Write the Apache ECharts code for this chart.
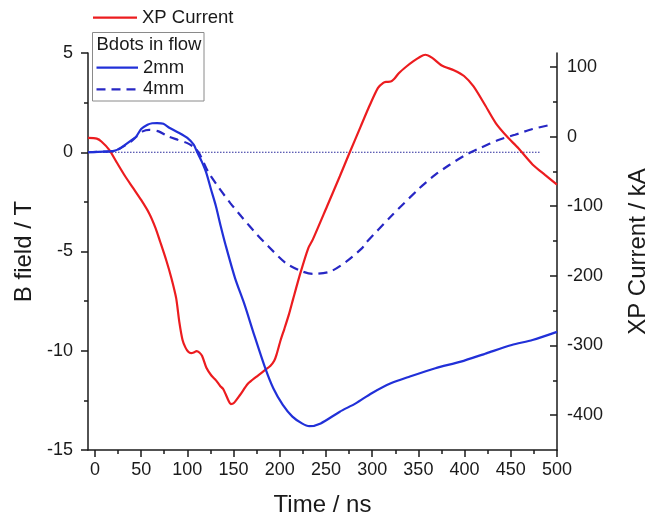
<!DOCTYPE html>
<html>
<head>
<meta charset="utf-8">
<script src="https://cdn.jsdelivr.net/npm/echarts@6/dist/echarts.min.js"></script>
<style>
  html, body { margin: 0; padding: 0; background: #ffffff; }
  #chart { width: 658px; height: 522px; }
</style>
</head>
<body>
<div id="chart"></div>
<script>
// Axis ticks and labels
const timeTicks = [0, 50, 100, 150, 200, 250, 300, 350, 400, 450, 500];
const timeMinorTicks = [25, 75, 125, 175, 225, 275, 325, 375, 425, 475];
const fieldTicks = [-15, -10, -5, 0, 5];
const currentTicks = [-400, -300, -200, -100, 0, 100];
const currentMinorTicks = [-350, -250, -150, -50, 50];

// XP current trace (time in ns, current in kA)
const xpTime = [-7.5, 2, 7, 15.5, 24, 32.7, 41.4, 50, 58.6, 65.5, 70.6, 77.5, 82.7, 87.9, 91.3, 94.8,
  98, 101, 104, 107, 110, 113, 116, 120.6, 126, 131, 135.5, 138.5, 141.5, 144.5, 147, 150, 157, 165.5,
  174.5, 184.3, 190, 194, 196.5, 201, 205, 210, 214.5, 222.3, 230.9, 235.7, 251.2, 265, 275.3, 287.4,
  297.7, 306.3, 312, 315, 320, 324, 328.8, 337.4, 344.3, 351.2, 357.4, 365, 375.3, 389, 399.4, 409.7,
  421.8, 433.9, 445.9, 458, 473.5, 487, 500];
const xpCurrent = [-2, -3, -7, -19, -38, -57, -74, -91, -110, -131, -151, -179, -203, -232, -266, -292,
  -303, -309, -311, -310, -308, -310, -315, -332, -343, -350, -358, -362, -370, -379, -384, -383, -371, -355,
  -345, -335, -329, -322, -313, -292, -276, -255, -233, -196, -160, -148, -100, -57, -24, 14,
  46, 70, 77, 78.5, 79, 83, 91, 101, 108, 114, 117.5, 113, 102, 95, 87, 72,
  46, 19, 0, -16.5, -40, -55, -69];

// B-dot probe at 2 mm (time in ns, field in T)
const b2Time = [-7.5, 10, 20.7, 27.6, 37.9, 44.8, 50, 56.9, 62, 67.2, 74.1, 81, 91.3, 100, 106.9, 110.3,
  115.5, 120.6, 125.8, 131, 136.2, 141.3, 151.6, 162, 172.3, 184.3, 193, 203.3, 213.7, 224, 232, 244.3,
  265, 282.2, 299.5, 320.2, 340.8, 368.4, 395.9, 423.5, 451, 473.5, 500];
const b2Field = [0, 0.03, 0.07, 0.21, 0.55, 0.8, 1.17, 1.39, 1.46, 1.47, 1.44, 1.22, 0.97, 0.72, 0.38, 0.04,
  -0.46, -1.05, -1.9, -2.73, -3.74, -4.66, -6.34, -7.69, -9.2, -10.88, -11.89, -12.73, -13.32, -13.66, -13.8, -13.66,
  -13.07, -12.65, -12.14, -11.64, -11.3, -10.88, -10.55, -10.13, -9.71, -9.46, -9.05];

// B-dot probe at 4 mm (time in ns, field in T)
const b4Time = [-7.5, 10, 20.7, 27.6, 37.9, 44.8, 51.7, 58.6, 68.9, 79.3, 89.6, 100, 108.5, 113.7, 122.3,
  134.4, 146.5, 158.5, 175.7, 187.8, 206.8, 224, 235.7, 254.6, 271.9, 289.1, 292.6, 320.2, 351.2, 368.4,
  383.9, 399.4, 416.6, 437.3, 454.6, 473.5, 491];
const b4Field = [0, 0.03, 0.07, 0.2, 0.5, 0.78, 1.05, 1.13, 1.05, 0.8, 0.63, 0.46, 0.21, -0.13, -0.97,
  -1.81, -2.56, -3.24, -4.16, -4.75, -5.59, -6.0, -6.13, -6.01, -5.51, -4.83, -4.6, -3.24, -1.81, -1.13,
  -0.63, -0.18, 0.21, 0.63, 0.88, 1.17, 1.36];

// Zero reference line on the field axis
const zeroTime = [-7.5, 482];
const zeroField = [0, 0];

const pair = (xs, ys) => xs.map((x, i) => [x, ys[i]]);

const FONT = '"Liberation Sans", Arial, sans-serif';
const INK = '#1a1a1a';
const RED = '#ec1c1f';
const BLUE = '#2130d8';
const NAVY = '#2727c4';
const LW = 2.2;
const DASH = [9, 6];

const axisLine = { show: true, onZero: false, lineStyle: { color: INK, width: 1.5 } };
const tickLabel = { color: INK, fontSize: 18, fontFamily: FONT };
const legendFont = '18.5px ' + FONT;

// Legend drawn as graphic items: a sample line plus its text
function legendItem(x1, x2, y, color, dash, label) {
  return [
    { type: 'line', silent: true, z: 100,
      shape: { x1: x1, y1: y, x2: x2, y2: y },
      style: { stroke: color, lineWidth: LW, lineDash: dash || null } },
    { type: 'text', silent: true, z: 100,
      style: { text: label, x: x2 + 5, y: y, fill: INK, font: legendFont, verticalAlign: 'middle' } }
  ];
}

const chart = echarts.init(document.getElementById('chart'), null, { renderer: 'canvas' });

chart.setOption({
  animation: false,
  backgroundColor: '#ffffff',
  grid: { left: 88, right: 79, top: 53, bottom: 72, containLabel: false },
  xAxis: [
    {
      type: 'value', min: -7.5, max: 500, position: 'bottom',
      axisLine: axisLine,
      axisTick: { show: true, inside: false, length: 7, customValues: timeTicks,
        lineStyle: { color: INK, width: 1.5 } },
      axisLabel: Object.assign({ margin: 11, customValues: timeTicks }, tickLabel),
      splitLine: { show: false },
      name: 'Time / ns', nameLocation: 'middle', nameGap: 43,
      nameTextStyle: { color: INK, fontSize: 24, fontFamily: FONT }
    },
    {
      type: 'value', min: -7.5, max: 500, position: 'bottom',
      axisLine: { show: false, onZero: false },
      axisTick: { show: true, inside: false, length: 4, customValues: timeMinorTicks,
        lineStyle: { color: INK, width: 1.5 } },
      axisLabel: { show: false },
      splitLine: { show: false }
    }
  ],
  yAxis: [
    {
      type: 'value', min: -15, max: 5, interval: 5, position: 'left',
      axisLine: axisLine,
      axisTick: { show: true, inside: false, length: 7, lineStyle: { color: INK, width: 1.5 } },
      minorTick: { show: true, splitNumber: 2, length: 4, lineStyle: { color: INK, width: 1.5 } },
      axisLabel: Object.assign({ margin: 15, customValues: fieldTicks }, tickLabel),
      splitLine: { show: false },
      name: 'B field / T', nameLocation: 'middle', nameGap: 46, nameRotate: 90,
      nameTextStyle: { color: INK, fontSize: 24, fontFamily: FONT }
    },
    {
      type: 'value', min: -450, max: 120, position: 'right',
      axisLine: axisLine,
      axisTick: { show: true, inside: true, length: 7, customValues: currentTicks,
        lineStyle: { color: INK, width: 1.5 } },
      axisLabel: Object.assign({ margin: 10, customValues: currentTicks }, tickLabel),
      splitLine: { show: false },
      name: 'XP Current / kA', nameLocation: 'middle', nameGap: 69, nameRotate: 90,
      nameTextStyle: { color: INK, fontSize: 24, fontFamily: FONT }
    },
    {
      type: 'value', min: -450, max: 120, position: 'right',
      axisLine: { show: false, onZero: false },
      axisTick: { show: true, inside: true, length: 4, customValues: currentMinorTicks,
        lineStyle: { color: INK, width: 1.5 } },
      axisLabel: { show: false },
      splitLine: { show: false }
    }
  ],
  graphic: [
    ...legendItem(93, 137, 17.7, RED, null, 'XP Current'),
    {
      type: 'rect', silent: true, z: 100,
      shape: { x: 92.5, y: 32.5, width: 111.5, height: 68.5 },
      style: { fill: 'none', stroke: '#8a8a8a', lineWidth: 1 }
    },
    {
      type: 'text', silent: true, z: 100,
      style: { text: 'Bdots in flow', x: 96.5, y: 45, fill: INK, font: legendFont, verticalAlign: 'middle' }
    },
    ...legendItem(96.5, 138, 67.7, BLUE, null, '2mm'),
    ...legendItem(96.5, 138, 89.3, NAVY, DASH, '4mm')
  ],
  series: [
    {
      name: 'zero', type: 'line', xAxisIndex: 0, yAxisIndex: 0,
      data: pair(zeroTime, zeroField), symbol: 'none', silent: true,
      lineStyle: { color: '#2a2a9c', width: 1.2, type: [1.5, 1.5] }, z: 1
    },
    {
      name: 'XP Current', type: 'line', xAxisIndex: 0, yAxisIndex: 1,
      data: pair(xpTime, xpCurrent), symbol: 'none', smooth: 0.25,
      lineStyle: { color: RED, width: LW }, z: 3
    },
    {
      name: '2mm', type: 'line', xAxisIndex: 0, yAxisIndex: 0,
      data: pair(b2Time, b2Field), symbol: 'none', smooth: 0.25,
      lineStyle: { color: BLUE, width: LW }, z: 4
    },
    {
      name: '4mm', type: 'line', xAxisIndex: 0, yAxisIndex: 0,
      data: pair(b4Time, b4Field), symbol: 'none', smooth: 0.25,
      lineStyle: { color: NAVY, width: LW, type: DASH }, z: 2
    }
  ]
});
</script>
</body>
</html>
